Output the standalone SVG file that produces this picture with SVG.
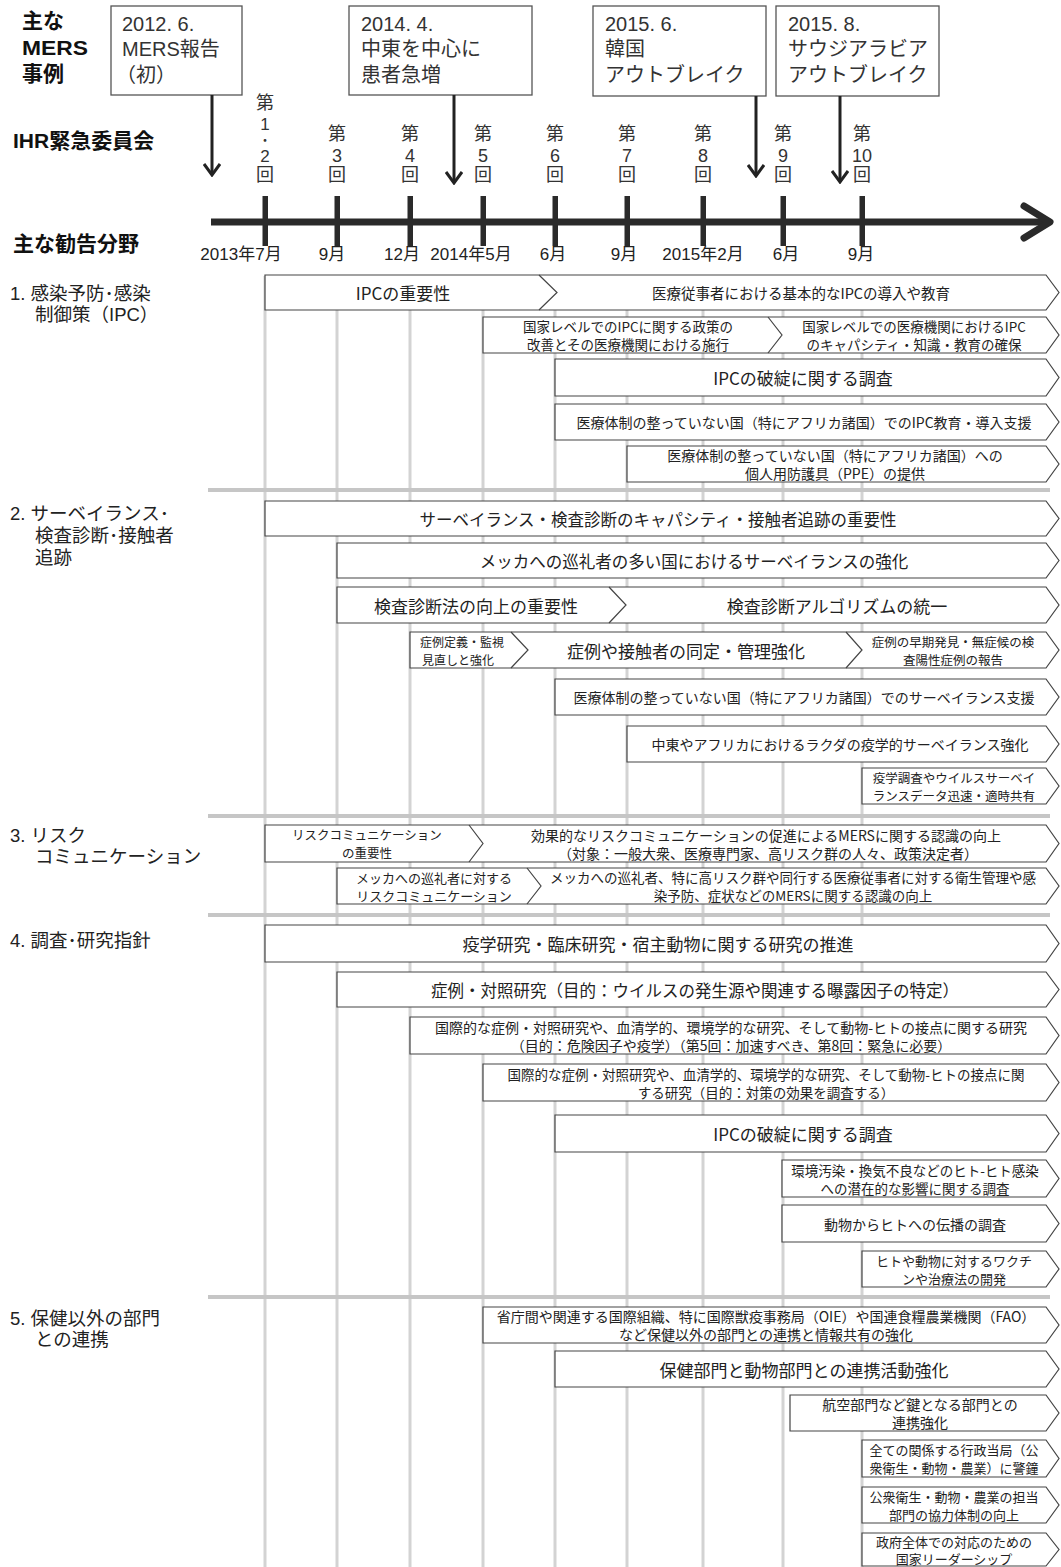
<svg xmlns="http://www.w3.org/2000/svg" width="1061" height="1567" viewBox="0 0 1061 1567">
<style>
text{font-family:"Noto Sans CJK JP",sans-serif;fill:#222}
.t{text-anchor:middle;dominant-baseline:central}
.l{font-size:17px}
.m{font-size:14px}
.s{font-size:13px}
.xs{font-size:12.5px}
.h{font-family:"Liberation Sans","Noto Sans CJK JP",sans-serif;font-weight:bold;fill:#111;font-size:21px;dominant-baseline:central}
.ev{font-family:"Liberation Sans","Noto Sans CJK JP",sans-serif;fill:#333;font-size:20px;dominant-baseline:central}
.lbl{font-family:"Liberation Sans","Noto Sans CJK JP",sans-serif;fill:#222;font-size:18.5px;dominant-baseline:central}
.cm{font-family:"Liberation Sans","Noto Sans CJK JP",sans-serif;fill:#333;font-size:18px;text-anchor:middle;dominant-baseline:central}
.dt{font-family:"Liberation Sans","Noto Sans CJK JP",sans-serif;fill:#222;font-size:17px;text-anchor:middle;dominant-baseline:central}
.evb{fill:#fff;stroke:#555;stroke-width:1.3}
.cv{fill:#fff;stroke:#444;stroke-width:1.2}
.sp{fill:none;stroke:#444;stroke-width:1.2}
.grid line{stroke:#d3d3d3;stroke-width:3}
.sep line{stroke:#c6c6c6;stroke-width:4}
.arr line{stroke:#222;stroke-width:3}
</style>
<defs>
<marker id="ah" viewBox="0 0 14 18" refX="12" refY="9" markerWidth="14" markerHeight="18" markerUnits="userSpaceOnUse" orient="auto">
<path d="M1,1 L12,9 L1,17" fill="none" stroke="#222" stroke-width="3"/>
</marker>
</defs>

<!-- headings -->
<g id="headings">
<text class="h" x="22" y="20">主な</text>
<text class="h" x="22" y="47" textLength="66" lengthAdjust="spacingAndGlyphs">MERS</text>
<text class="h" x="22" y="73">事例</text>
<text class="h" x="13" y="140">IHR緊急委員会</text>
<text class="h" x="13" y="243">主な勧告分野</text>
</g>

<!-- section labels -->
<g id="section-labels">
<text class="lbl" x="10" y="293">1. 感染予防･感染</text>
<text class="lbl" x="35" y="314">制御策（IPC）</text>
<text class="lbl" x="10" y="513">2. サーベイランス･</text>
<text class="lbl" x="35" y="535">検査診断･接触者</text>
<text class="lbl" x="35" y="557">追跡</text>
<text class="lbl" x="10" y="835">3. リスク</text>
<text class="lbl" x="35" y="856">コミュニケーション</text>
<text class="lbl" x="10" y="940">4. 調査･研究指針</text>
<text class="lbl" x="10" y="1318">5. 保健以外の部門</text>
<text class="lbl" x="35" y="1339">との連携</text>
</g>

<!-- grid -->
<g class="grid">
<line x1="265" y1="276" x2="265" y2="1567"/>
<line x1="337" y1="276" x2="337" y2="1567"/>
<line x1="410" y1="276" x2="410" y2="1567"/>
<line x1="483" y1="276" x2="483" y2="1567"/>
<line x1="555" y1="276" x2="555" y2="1567"/>
<line x1="627" y1="276" x2="627" y2="1567"/>
<line x1="703" y1="276" x2="703" y2="1567"/>
<line x1="783" y1="276" x2="783" y2="1567"/>
<line x1="862" y1="276" x2="862" y2="1567"/>
</g>
<g class="sep">
<line x1="208" y1="490" x2="1050" y2="490"/>
<line x1="208" y1="816" x2="1050" y2="816"/>
<line x1="208" y1="915" x2="1050" y2="915"/>
<line x1="208" y1="1297" x2="1050" y2="1297"/>
</g>

<!-- event boxes -->
<g id="ev1"><rect class="evb" x="111" y="6" width="131" height="89"/>
<text class="ev" x="122" y="24">2012. 6.</text><text class="ev" x="122" y="49">MERS報告</text><text class="ev" x="116" y="75">（初）</text></g>
<g id="ev2"><rect class="evb" x="349" y="6" width="183" height="89"/>
<text class="ev" x="361" y="24">2014. 4.</text><text class="ev" x="361" y="49">中東を中心に</text><text class="ev" x="361" y="75">患者急増</text></g>
<g id="ev3"><rect class="evb" x="593" y="6" width="173" height="90"/>
<text class="ev" x="605" y="24">2015. 6.</text><text class="ev" x="605" y="49">韓国</text><text class="ev" x="605" y="75">アウトブレイク</text></g>
<g id="ev4"><rect class="evb" x="776" y="6" width="163" height="90"/>
<text class="ev" x="788" y="24">2015. 8.</text><text class="ev" x="788" y="49">サウジアラビア</text><text class="ev" x="788" y="75">アウトブレイク</text></g>

<!-- connectors -->
<g id="connectors" class="arr">
<line x1="212" y1="95" x2="212" y2="175" marker-end="url(#ah)"/>
<line x1="454" y1="95" x2="454" y2="183" marker-end="url(#ah)"/>
<line x1="756" y1="96" x2="756" y2="176" marker-end="url(#ah)"/>
<line x1="840" y1="96" x2="840" y2="182" marker-end="url(#ah)"/>
</g>

<!-- committee labels -->
<g id="committees">
<text class="cm"><tspan x="265" y="103">第</tspan><tspan x="265" y="124" style="font-size:17px">1</tspan><tspan x="265" y="140" style="font-size:13px">・</tspan><tspan x="265" y="156" style="font-size:17px">2</tspan><tspan x="265" y="175">回</tspan></text>
<text class="cm"><tspan x="337" y="134">第</tspan><tspan x="337" y="156">3</tspan><tspan x="337" y="175">回</tspan></text>
<text class="cm"><tspan x="410" y="134">第</tspan><tspan x="410" y="156">4</tspan><tspan x="410" y="175">回</tspan></text>
<text class="cm"><tspan x="483" y="134">第</tspan><tspan x="483" y="156">5</tspan><tspan x="483" y="175">回</tspan></text>
<text class="cm"><tspan x="555" y="134">第</tspan><tspan x="555" y="156">6</tspan><tspan x="555" y="175">回</tspan></text>
<text class="cm"><tspan x="627" y="134">第</tspan><tspan x="627" y="156">7</tspan><tspan x="627" y="175">回</tspan></text>
<text class="cm"><tspan x="703" y="134">第</tspan><tspan x="703" y="156">8</tspan><tspan x="703" y="175">回</tspan></text>
<text class="cm"><tspan x="783" y="134">第</tspan><tspan x="783" y="156">9</tspan><tspan x="783" y="175">回</tspan></text>
<text class="cm"><tspan x="862" y="134">第</tspan><tspan x="862" y="156">10</tspan><tspan x="862" y="175">回</tspan></text>
</g>

<!-- timeline -->
<g id="timeline">
<line x1="211" y1="222" x2="1046" y2="222" stroke="#2a2a2a" stroke-width="7"/>
<polyline points="1024,206 1050,222 1024,238" fill="none" stroke="#2a2a2a" stroke-width="7" stroke-linejoin="round" stroke-linecap="round"/>
<g fill="#2a2a2a">
<rect x="262.5" y="196" width="5.5" height="50"/>
<rect x="334.5" y="196" width="5.5" height="50"/>
<rect x="407.5" y="196" width="5.5" height="50"/>
<rect x="480.5" y="196" width="5.5" height="50"/>
<rect x="552.5" y="196" width="5.5" height="50"/>
<rect x="624.5" y="196" width="5.5" height="50"/>
<rect x="700.5" y="196" width="5.5" height="50"/>
<rect x="780.5" y="196" width="5.5" height="50"/>
<rect x="859.5" y="196" width="5.5" height="50"/>
</g>
<text class="dt" x="241" y="254">2013年7月</text>
<text class="dt" x="332" y="254">9月</text>
<text class="dt" x="402" y="254">12月</text>
<text class="dt" x="471" y="254">2014年5月</text>
<text class="dt" x="553" y="254">6月</text>
<text class="dt" x="624" y="254">9月</text>
<text class="dt" x="703" y="254">2015年2月</text>
<text class="dt" x="786" y="254">6月</text>
<text class="dt" x="861" y="254">9月</text>
</g>

<!-- Section 1 -->
<g id="s1r1"><path class="cv" d="M265 275H1046L1059 292.5L1046 310H265Z"/><path class="sp" d="M539 275L557 292.5L539 310"/>
<text class="t l" x="403" y="292.5">IPCの重要性</text><text class="t m" x="801" y="292.5" style="font-size:14.5px">医療従事者における基本的なIPCの導入や教育</text></g>
<g id="s1r2"><path class="cv" d="M483 317H1046L1059 335L1046 353H483Z"/><path class="sp" d="M768 317L782 335L768 353"/>
<text class="t" style="font-size:13.5px" x="628" y="326">国家レベルでのIPCに関する政策の</text><text class="t" style="font-size:13.5px" x="628" y="344">改善とその医療機関における施行</text>
<text class="t" style="font-size:13.5px" x="914" y="326">国家レベルでの医療機関におけるIPC</text><text class="t" style="font-size:13.5px" x="914" y="344">のキャパシティ・知識・教育の確保</text></g>
<g id="s1r3"><path class="cv" d="M555 359H1046L1059 377.5L1046 396H555Z"/><text class="t l" x="803" y="377.5">IPCの破綻に関する調査</text></g>
<g id="s1r4"><path class="cv" d="M555 404H1046L1059 422L1046 440H555Z"/><text class="t m" x="804" y="422">医療体制の整っていない国（特にアフリカ諸国）でのIPC教育・導入支援</text></g>
<g id="s1r5"><path class="cv" d="M627 446H1046L1059 464L1046 482H627Z"/><text class="t m" x="835" y="455">医療体制の整っていない国（特にアフリカ諸国）への</text><text class="t m" x="835" y="473">個人用防護具（PPE）の提供</text></g>

<!-- Section 2 -->
<g id="s2r1"><path class="cv" d="M265 501H1046L1059 518.5L1046 536H265Z"/><text class="t" style="font-size:16.5px" x="658" y="518.5">サーベイランス・検査診断のキャパシティ・接触者追跡の重要性</text></g>
<g id="s2r2"><path class="cv" d="M337 543H1046L1059 560.5L1046 578H337Z"/><text class="t" style="font-size:16.5px" x="694" y="560.5">メッカへの巡礼者の多い国におけるサーベイランスの強化</text></g>
<g id="s2r3"><path class="cv" d="M337 587H1046L1059 605L1046 623H337Z"/><path class="sp" d="M609 587L626 605L609 623"/>
<text class="t l" x="476" y="605">検査診断法の向上の重要性</text><text class="t l" x="837" y="605">検査診断アルゴリズムの統一</text></g>
<g id="s2r4"><path class="cv" d="M410 632H1046L1059 650L1046 668H410Z"/><path class="sp" d="M511 632L528 650L511 668"/><path class="sp" d="M846 632L862 650L846 668"/>
<text class="t" style="font-size:12px" x="462" y="641">症例定義・監視</text><text class="t" style="font-size:12px" x="458" y="659">見直しと強化</text>
<text class="t l" x="686" y="650">症例や接触者の同定・管理強化</text>
<text class="t xs" x="953" y="641">症例の早期発見・無症候の検</text><text class="t xs" x="953" y="659">査陽性症例の報告</text></g>
<g id="s2r5"><path class="cv" d="M555 679H1046L1059 697L1046 715H555Z"/><text class="t m" x="804" y="697">医療体制の整っていない国（特にアフリカ諸国）でのサーベイランス支援</text></g>
<g id="s2r6"><path class="cv" d="M627 726H1046L1059 744L1046 762H627Z"/><text class="t m" x="840" y="744">中東やアフリカにおけるラクダの疫学的サーベイランス強化</text></g>
<g id="s2r7"><path class="cv" d="M862 768H1046L1059 786L1046 804H862Z"/><text class="t xs" x="954" y="777">疫学調査やウイルスサーベイ</text><text class="t xs" x="954" y="795">ランスデータ迅速・適時共有</text></g>

<!-- Section 3 -->
<g id="s3r1"><path class="cv" d="M265 825H1046L1059 843.5L1046 862H265Z"/><path class="sp" d="M469 825L483 843.5L469 862"/>
<text class="t xs" x="367" y="834.5">リスクコミュニケーション</text><text class="t xs" x="367" y="852.5">の重要性</text>
<text class="t m" x="766" y="834.5">効果的なリスクコミュニケーションの促進によるMERSに関する認識の向上</text><text class="t m" x="768" y="852.5">（対象：一般大衆、医療専門家、高リスク群の人々、政策決定者）</text></g>
<g id="s3r2"><path class="cv" d="M337 868H1046L1059 886L1046 904H337Z"/><path class="sp" d="M527 868L541 886L527 904"/>
<text class="t s" x="434" y="877">メッカへの巡礼者に対する</text><text class="t s" x="434" y="895">リスクコミュニケーション</text>
<text class="t" style="font-size:13.5px" x="793" y="877">メッカへの巡礼者、特に高リスク群や同行する医療従事者に対する衛生管理や感</text><text class="t" style="font-size:13.5px" x="793" y="895">染予防、症状などのMERSに関する認識の向上</text></g>

<!-- Section 4 -->
<g id="s4r1"><path class="cv" d="M265 925H1046L1059 943.5L1046 962H265Z"/><text class="t l" x="658" y="943.5">疫学研究・臨床研究・宿主動物に関する研究の推進</text></g>
<g id="s4r2"><path class="cv" d="M337 972H1046L1059 989.5L1046 1007H337Z"/><text class="t" style="font-size:16.5px" x="695" y="989.5">症例・対照研究（目的：ウイルスの発生源や関連する曝露因子の特定）</text></g>
<g id="s4r3"><path class="cv" d="M410 1017H1046L1059 1035.5L1046 1054H410Z"/><text class="t m" x="731" y="1026.5">国際的な症例・対照研究や、血清学的、環境学的な研究、そして動物-ヒトの接点に関する研究</text><text class="t m" x="731" y="1044.5">（目的：危険因子や疫学）（第5回：加速すべき、第8回：緊急に必要）</text></g>
<g id="s4r4"><path class="cv" d="M483 1064H1046L1059 1082.5L1046 1101H483Z"/><text class="t" style="font-size:13.5px" x="766" y="1073.5">国際的な症例・対照研究や、血清学的、環境学的な研究、そして動物-ヒトの接点に関</text><text class="t" style="font-size:13.5px" x="766" y="1091.5">する研究（目的：対策の効果を調査する）</text></g>
<g id="s4r5"><path class="cv" d="M555 1115H1046L1059 1133.5L1046 1152H555Z"/><text class="t l" x="803" y="1133.5">IPCの破綻に関する調査</text></g>
<g id="s4r6"><path class="cv" d="M782 1160H1046L1059 1178.5L1046 1197H782Z"/><text class="t" style="font-size:13.5px" x="915" y="1169.5">環境汚染・換気不良などのヒト-ヒト感染</text><text class="t" style="font-size:13.5px" x="915" y="1187.5">への潜在的な影響に関する調査</text></g>
<g id="s4r7"><path class="cv" d="M782 1205H1046L1059 1223.5L1046 1242H782Z"/><text class="t m" x="915" y="1223.5">動物からヒトへの伝播の調査</text></g>
<g id="s4r8"><path class="cv" d="M862 1251H1046L1059 1269L1046 1287H862Z"/><text class="t s" x="954" y="1260">ヒトや動物に対するワクチ</text><text class="t s" x="954" y="1278">ンや治療法の開発</text></g>

<!-- Section 5 -->
<g id="s5r1"><path class="cv" d="M483 1307H1046L1059 1325L1046 1343H483Z"/><text class="t m" x="766" y="1316">省庁間や関連する国際組織、特に国際獣疫事務局（OIE）や国連食糧農業機関（FAO）</text><text class="t m" x="766" y="1334">など保健以外の部門との連携と情報共有の強化</text></g>
<g id="s5r2"><path class="cv" d="M555 1351H1046L1059 1369L1046 1387H555Z"/><text class="t l" x="804" y="1369">保健部門と動物部門との連携活動強化</text></g>
<g id="s5r3"><path class="cv" d="M790 1395H1046L1059 1413L1046 1431H790Z"/><text class="t m" x="920" y="1404">航空部門など鍵となる部門との</text><text class="t m" x="920" y="1422">連携強化</text></g>
<g id="s5r4"><path class="cv" d="M862 1440H1046L1059 1458.5L1046 1477H862Z"/><text class="t s" x="954" y="1449.5">全ての関係する行政当局（公</text><text class="t s" x="954" y="1467.5">衆衛生・動物・農業）に警鐘</text></g>
<g id="s5r5"><path class="cv" d="M862 1487H1046L1059 1505L1046 1523H862Z"/><text class="t s" x="954" y="1496">公衆衛生・動物・農業の担当</text><text class="t s" x="954" y="1514">部門の協力体制の向上</text></g>
<g id="s5r6"><path class="cv" d="M862 1533H1046L1059 1549.5L1046 1566H862Z"/><text class="t s" x="954" y="1541">政府全体での対応のための</text><text class="t s" x="954" y="1558">国家リーダーシップ</text></g>
</svg>
